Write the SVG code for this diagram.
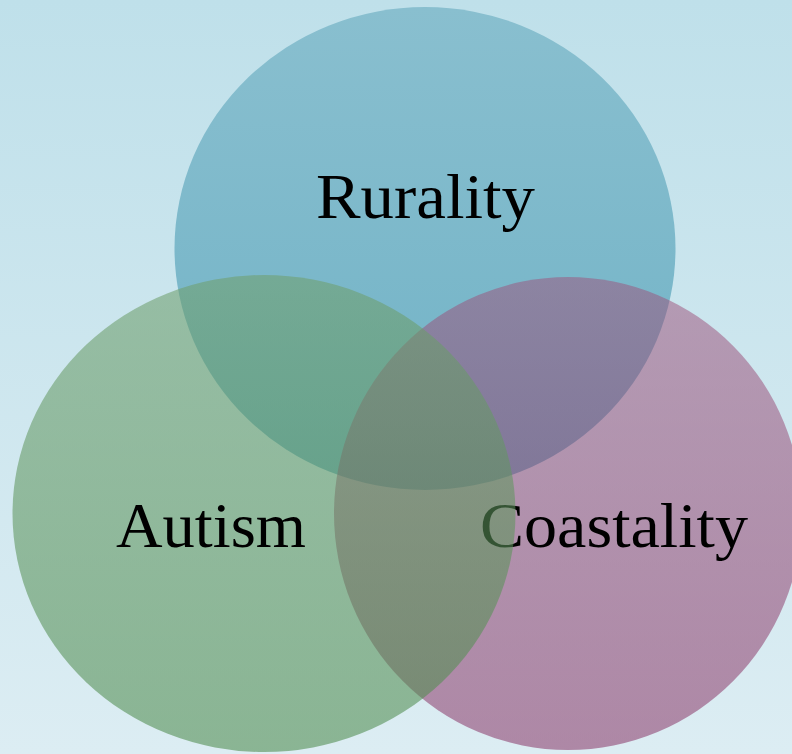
<svg xmlns="http://www.w3.org/2000/svg" width="792" height="754" viewBox="0 0 792 754">
  <defs>
    <linearGradient id="bg" x1="0" y1="0" x2="0" y2="1">
      <stop offset="0" stop-color="#bfe0ea"/>
      <stop offset="1" stop-color="#dcedf3"/>
    </linearGradient>
    <linearGradient id="fillBlue" x1="0" y1="0" x2="0" y2="1">
      <stop offset="0" stop-color="#89bfcf"/>
      <stop offset="1" stop-color="#70b2c6"/>
    </linearGradient>
    <linearGradient id="fillPurple" x1="0" y1="0" x2="0" y2="1">
      <stop offset="0" stop-color="#9e517a"/>
      <stop offset="1" stop-color="#802359"/>
    </linearGradient>
    <linearGradient id="fillGreen" x1="0" y1="0" x2="0" y2="1">
      <stop offset="0" stop-color="#6f9f6d"/>
      <stop offset="1" stop-color="#4c8a4b"/>
    </linearGradient>
  </defs>
  <style>
    .label { font-family: "Liberation Serif", "Times New Roman", serif; font-size: 64px; fill: #000000; text-anchor: middle; }
    .set-blue { fill: url(#fillBlue); }
    .set-purple { fill: url(#fillPurple); fill-opacity: 0.5; }
    .set-green { fill: url(#fillGreen); fill-opacity: 0.57; }
  </style>

  <rect x="0" y="0" width="792" height="754" fill="url(#bg)"/>

  <g id="rurality-set">
    <ellipse class="set-blue" cx="425" cy="248.5" rx="250.5" ry="241.5"/>
  </g>

  <g id="coastality-set">
    <ellipse class="set-purple" cx="568" cy="513.5" rx="234" ry="236.5"/>
    <text class="label" x="614" y="547" textLength="268" lengthAdjust="spacingAndGlyphs">Coastality</text>
  </g>

  <g id="autism-set">
    <ellipse class="set-green" cx="264" cy="513.5" rx="251.5" ry="238.5"/>
    <text class="label" x="211" y="547" textLength="190" lengthAdjust="spacingAndGlyphs">Autism</text>
  </g>

  <g id="rurality-label">
    <text class="label" x="425.5" y="218" textLength="219" lengthAdjust="spacingAndGlyphs">Rurality</text>
  </g>

  <g id="connectors"/>
</svg>
